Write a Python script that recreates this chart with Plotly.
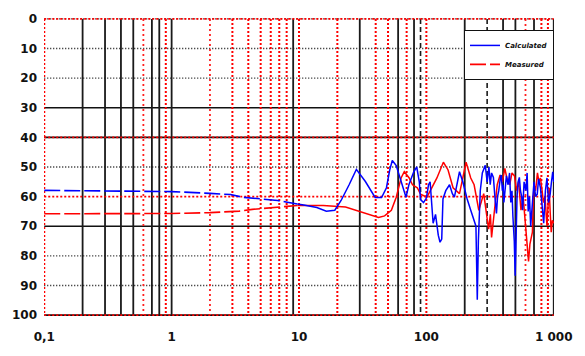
import plotly.graph_objects as go

# ---------------- data ----------------
blue_f = [0.1, 0.2, 0.5, 1.0, 2.0, 2.4, 2.9, 3.6, 4.5, 5.7, 6.8, 8.1, 9.7,
          10.9, 13.8, 16.4, 19.1, 21.4, 24.8, 28.2, 33.2, 39.6, 44.5, 48.6, 51.5,
          54.0, 58, 63.3, 69.2, 72.9, 79.6, 84, 88, 90, 95, 100, 104, 107, 110,
          113, 118, 124, 128, 132, 135, 142, 152, 160, 166, 175, 182, 193, 200,
          209, 223, 237, 245, 251, 256, 265, 275, 290, 300, 310, 317, 325, 336,
          345, 355, 362, 370, 380, 387, 395, 400, 406, 413, 425, 438, 450, 460,
          470, 478, 490, 498, 505, 515, 525, 537, 548, 560, 570, 585, 604, 618,
          630, 645, 659, 680, 700, 720, 742, 760, 786, 810, 834, 860, 885, 910,
          937, 960, 982, 1000]
blue_v = [57.9, 58.0, 58.0, 58.3, 58.9, 59.2, 59.3, 60.2, 60.6, 60.9, 61.3, 61.9, 62.5,
          62.8, 63.7, 64.9, 64.6, 61.3, 55.9, 50.8, 54.9, 60.3, 60.3, 57.0, 51.1,
          47.8, 49.5, 54.9, 60.2, 56.0, 51.6, 50.0, 55.0, 61.0, 62.0, 60.5, 56.0, 55.0, 62.0,
          69.0, 66.0, 73.0, 75.4, 74.3, 60.8, 58.0, 56.0, 59.0, 60.2, 55.0, 51.6, 54.9, 58.0,
          60.8, 64.6, 67.8, 70.0, 94.8, 75.0, 58.0, 52.0, 49.4, 55.0, 50.0, 56.0, 52.0, 53.5,
          60.0, 65.7, 60.0, 58.0, 54.0, 52.7, 58.0, 56.0, 62.0, 58.0, 53.0, 56.0, 52.0, 62.0,
          58.0, 66.7, 75.0, 86.7, 70.0, 60.0, 55.0, 53.5, 58.0, 60.0, 64.6, 55.0, 58.0, 52.0,
          65.0, 60.0, 70.0, 62.0, 55.0, 60.0, 59.2, 54.0, 57.0, 63.0, 69.0, 58.0, 53.7, 62.0,
          59.2, 55.0, 51.6, 55.0]

red_f = [0.1, 0.5, 1.0, 2.0, 2.6, 3.4, 4.3, 5.7, 7.7, 9.7, 10.9, 15.5, 23.2, 27.7,
         35.3, 42.1, 47, 53.1, 58, 63.3, 67.1, 73.3, 77.8, 84.9, 90, 101, 121, 136,
         148, 162, 182, 205, 223, 237, 258, 282, 308, 318, 325, 335, 347, 360, 379,
         395, 413, 430, 451, 470, 492, 510, 530, 553, 575, 590, 604, 620, 634, 650,
         680, 690, 700, 720, 745, 765, 786, 810, 830, 853, 870, 885, 905, 920, 937,
         955, 975, 1000]
red_v = [65.8, 65.8, 65.7, 65.4, 65.1, 64.9, 64.3, 63.8, 63.3, 63.0, 63.0, 63.0, 63.5, 64.6,
         65.9, 67.0, 66.5, 64.6, 60.2, 53.7, 51.6, 53.7, 56.0, 57.0, 59.2, 60.2, 53.7, 48.4,
         51.0, 57.0, 59.0, 48.4, 53.7, 56.0, 64.6, 59.0, 71.0, 66.0, 73.8, 68.0, 62.0, 56.0, 52.7,
         55.0, 50.5, 54.0, 56.0, 52.0, 53.0, 58.0, 55.0, 64.6, 60.0, 66.0, 70.0, 75.0, 81.9, 76.0,
         72.0, 62.0, 56.0, 58.0, 52.0, 55.0, 53.7, 58.0, 62.0, 60.0, 66.0, 70.0, 62.0, 57.0, 65.0,
         72.0, 68.0, 69.0]

series_names = ["Calculated", "Measured"]

x_tickvals = [0.1, 1, 10, 100, 1000]
x_ticktext = ["0,1", "1", "10", "100", "1 000"]
y_tickvals = [0, 10, 20, 30, 40, 50, 60, 70, 80, 90, 100]

# grid line positions (odd, mixed-style grid of the original)
v_black_solid = [0.2, 0.3, 0.4, 0.5, 0.7, 0.8, 1, 9, 30, 60, 80, 200, 400, 500, 700, 1000]
v_black_dash = [90, 300]
v_red_dot = [0.1, 0.9, 3, 4, 5, 6, 7, 8, 10, 20, 40, 50, 70, 100, 800, 900]
v_red_wavy = [0.6, 2, 600]
h_black_dot = [0, 10, 20, 50, 80, 90]
h_black_solid = [30, 40, 70, 100]
h_red_dot = [0, 40, 60, 100]

X_MIN, X_MAX = 0.1, 1000
Y_MIN, Y_MAX = 0, 100
SPLIT = 9.7  # low-frequency part drawn dashed


def vlines(vals):
    xs, ys = [], []
    for v in vals:
        xs += [v, v, None]
        ys += [Y_MIN, Y_MAX, None]
    return xs, ys


def hlines(vals):
    xs, ys = [], []
    for v in vals:
        xs += [X_MIN, X_MAX, None]
        ys += [v, v, None]
    return xs, ys


fig = go.Figure()


def add_grid(xy, color, width, dash):
    fig.add_trace(go.Scatter(x=xy[0], y=xy[1], mode="lines",
                             line=dict(color=color, width=width, dash=dash),
                             hoverinfo="skip", showlegend=False))


add_grid(hlines(h_black_solid), "#111111", 1.6, "solid")
add_grid(hlines(h_black_dot), "#111111", 1.3, "1px,2px")
add_grid(vlines(v_black_solid), "#1a1a1a", 1.8, "solid")
add_grid(vlines(v_black_dash), "#1a1a1a", 1.6, "5px,3px")
add_grid(vlines(v_red_dot), "#ff0000", 2, "2px,2px")
add_grid(vlines(v_red_wavy), "#ff2020", 1.8, "2px,3px")
add_grid(hlines(h_red_dot), "#ff0000", 1.6, "2px,2px")

# ---------------- data series ----------------
def split(f, v):
    lo = [(a, b) for a, b in zip(f, v) if a <= SPLIT]
    hi = [(a, b) for a, b in zip(f, v) if a >= SPLIT]
    return lo, hi


b_lo, b_hi = split(blue_f, blue_v)
r_lo, r_hi = split(red_f, red_v)

fig.add_trace(go.Scatter(x=[p[0] for p in r_lo], y=[p[1] for p in r_lo], mode="lines",
                         name=series_names[1], legendgroup="r", legendrank=2,
                         line=dict(color="#ff0000", width=1.6, dash="16px,4px")))
fig.add_trace(go.Scatter(x=[p[0] for p in r_hi], y=[p[1] for p in r_hi], mode="lines",
                         name=series_names[1], legendgroup="r", showlegend=False,
                         line=dict(color="#ff0000", width=1.5)))
fig.add_trace(go.Scatter(x=[p[0] for p in b_lo], y=[p[1] for p in b_lo], mode="lines",
                         name=series_names[0], legendgroup="b", showlegend=False,
                         line=dict(color="#0000ff", width=1.6, dash="16px,4px")))
fig.add_trace(go.Scatter(x=[p[0] for p in b_hi], y=[p[1] for p in b_hi], mode="lines",
                         name=series_names[0], legendgroup="b", legendrank=1,
                         line=dict(color="#0000ff", width=1.5)))

tick_font = dict(family="DejaVu Sans", size=12, color="#111111", weight="bold")

fig.update_layout(
    width=585, height=356,
    margin=dict(l=43, r=19, t=17, b=30),
    paper_bgcolor="white", plot_bgcolor="white",
    showlegend=True,
    legend=dict(x=1.0, y=0.96, xanchor="right", yanchor="top",
                bgcolor="white", bordercolor="#111111", borderwidth=1,
                font=dict(family="DejaVu Sans", size=7, color="#111111",
                          style="italic", weight="bold"),
                itemwidth=30, tracegroupgap=0, traceorder="normal"),
    xaxis=dict(type="log", range=[-1.002, 3.002], showgrid=False, zeroline=False,
               showline=False, tickvals=x_tickvals, ticktext=x_ticktext,
               ticks="", ticklabelstandoff=12, tickfont=tick_font),
    yaxis=dict(range=[100.3, -0.3], showgrid=False, zeroline=False, showline=False,
               tickvals=y_tickvals, ticks="", ticklabelstandoff=6, tickfont=tick_font),
)

fig.write_html("out.html")
